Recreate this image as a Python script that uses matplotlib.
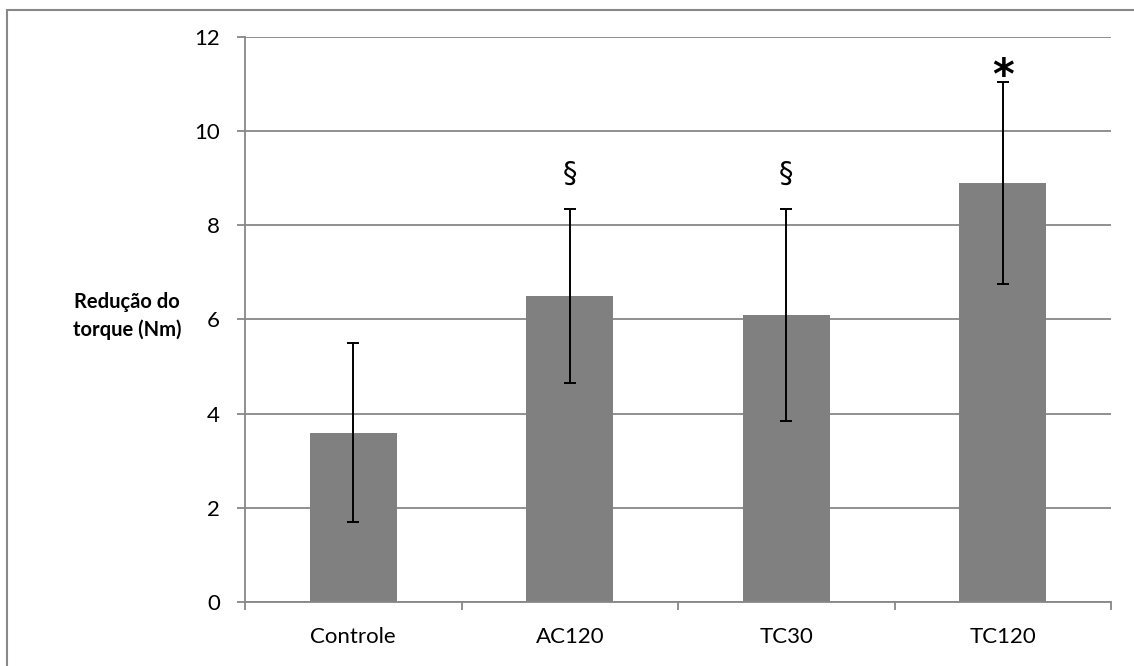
import matplotlib.pyplot as plt
from matplotlib.patches import Rectangle

groups = ['Controle', 'AC120', 'TC30', 'TC120']
means = [3.6, 6.5, 6.1, 8.9]
errors = [1.9, 1.85, 2.25, 2.15]
marks = ['', '§', '§', '*']
mark_y = [0, 9.1, 9.1, 11.15]

plt.rcParams['font.family'] = ['Lato', 'DejaVu Sans']

fig = plt.figure(figsize=(11.34, 6.66), dpi=100)
ax = fig.add_axes([245/1134, 1-602/666, (1111-245)/1134, (602-37)/666])

x = range(len(groups))
ax.bar(x, means, width=0.4, color='#808080', zorder=2)
ax.errorbar(x, means, yerr=errors, fmt='none', ecolor='black', elinewidth=1.4,
            capsize=4.5, capthick=1.4, zorder=3)

for i, m in enumerate(marks):
    if m == '§':
        ax.text(i, mark_y[i], m, ha='center', va='center', fontsize=21,
                family='DejaVu Sans')
    elif m == '*':
        ax.text(i, mark_y[i], m, ha='center', va='center', fontsize=30,
                fontweight='bold', family='DejaVu Sans')

ax.set_xlim(-0.5, 3.5)
ax.set_ylim(0, 12)
ax.set_yticks(range(0, 13, 2))
ax.set_xticks(x)
ax.set_xticklabels(groups)
ax.set_xticks([-0.5, 0.5, 1.5, 2.5, 3.5], minor=True)
ax.tick_params(axis='x', which='major', length=0, pad=18, labelsize=16)
ax.tick_params(axis='x', which='minor', length=6, color='#878787', width=1.3)
ax.tick_params(axis='y', length=6, color='#878787', width=1.3, labelsize=16, pad=12)
ax.yaxis.grid(True, color='#878787', lw=1.3, zorder=0)
ax.set_axisbelow(True)
for s in ['top', 'right']:
    ax.spines[s].set_visible(False)
for s in ['left', 'bottom']:
    ax.spines[s].set_color('#878787')
    ax.spines[s].set_linewidth(1.3)

fig.text(127/1134, 1-316/666, 'Redução do\ntorque (Nm)', ha='center', va='center',
         fontsize=14.5, fontweight='bold', linespacing=1.5)

# outer frame (only left and top edges visible)
fig.patches.append(Rectangle((7/1134, -0.1), 1.2, 1 - 10/666 + 0.1, transform=fig.transFigure,
                             fill=False, edgecolor='#888888', lw=1.5))

fig.savefig('out.png', dpi=100)
